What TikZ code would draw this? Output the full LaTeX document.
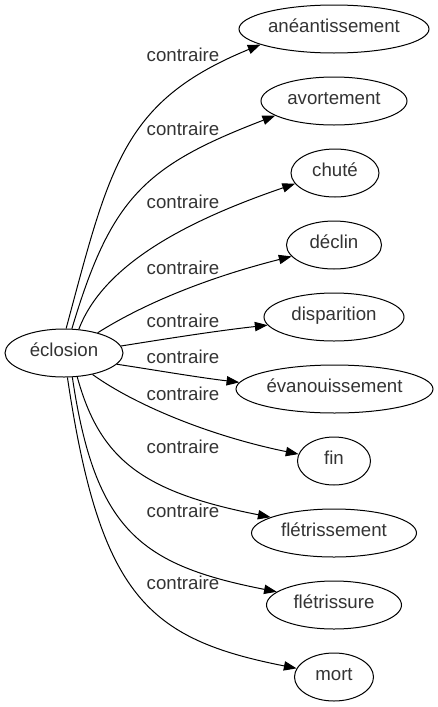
\documentclass[tikz,border=0pt]{standalone}
\usepackage{fontspec}
\setmainfont{Liberation Sans}
\usetikzlibrary{shapes.geometric,arrows.meta}
\definecolor{txt}{HTML}{333333}
\begin{document}
\begin{tikzpicture}[x=0.75pt,y=-0.75pt,
  word/.style={draw=black,line width=0.75pt,ellipse,inner sep=0pt,minimum height=36pt,
    text=txt,font=\fontsize{14pt}{16pt}\selectfont,text height=0.72em,text depth=0.14em},
  rel/.style={text=txt,font=\fontsize{14pt}{16pt}\selectfont,inner sep=0pt,anchor=base},
  edge/.style={draw=black,line width=0.75pt,-{Triangle[length=9.5pt,width=7pt]}}]
\useasboundingbox (0,0) rectangle (438,707);
\node[word,minimum width=88.5pt] (ecl) at (64,353) {éclosion};
\node[word,minimum width=142.5pt] (ane) at (334,29) {anéantissement};
\node[word,minimum width=109.5pt] (avo) at (334,101) {avortement};
\node[word,minimum width=66pt] (chu) at (335,173) {chuté};
\node[word,minimum width=71.25pt] (dec) at (334,245) {déclin};
\node[word,minimum width=105pt] (dis) at (334,317) {disparition};
\node[word,minimum width=147.75pt] (eva) at (334.5,389) {évanouissement};
\node[word,minimum width=54.75pt] (fin) at (334,461) {fin};
\node[word,minimum width=123.75pt] (fle) at (334,533) {flétrissement};
\node[word,minimum width=101.25pt] (flu) at (334,605) {flétrissure};
\node[word,minimum width=59.25pt] (mor) at (334,677) {mort};
\draw[edge] (ecl.85.4) .. controls (110,165) and (123,101) .. (ane.192.5);
\draw[edge] (ecl.72.3) .. controls (111,198) and (144,166) .. (avo.194.9);
\draw[edge] (ecl.58.7) .. controls (105,260) and (198,217) .. (chu.195.9);
\draw[edge] (ecl.31.2) .. controls (148,301) and (214,276) .. (dec.195.9);
\draw[edge] (ecl.7.1) .. controls (165,339) and (215,331) .. (dis.187.8);
\draw[edge] (ecl.-12.8) .. controls (155,370) and (195,377) .. (eva.176.4);
\draw[edge] (ecl.-37.2) .. controls (135,405) and (210,436) .. (fin.169);
\draw[edge] (ecl.-61.6) .. controls (100,460) and (143,492) .. (fle.166);
\draw[edge] (ecl.-71.6) .. controls (95,530) and (140,565) .. (flu.167.2);
\draw[edge] (ecl.-82.9) .. controls (100,597) and (148,639) .. (mor.167);
\node[rel] (l1) at (183,61.5) {contraire};
\node[rel] (l2) at (183,135.5) {contraire};
\node[rel] (l3) at (183,208.5) {contraire};
\node[rel] (l4) at (183,274.5) {contraire};
\node[rel] (l5) at (183,327.5) {contraire};
\node[rel] (l6) at (183,363.5) {contraire};
\node[rel] (l7) at (183,400.5) {contraire};
\node[rel] (l8) at (183,453.5) {contraire};
\node[rel] (l9) at (183,517.5) {contraire};
\node[rel] (l10) at (183,589.5) {contraire};
\end{tikzpicture}
\end{document}
